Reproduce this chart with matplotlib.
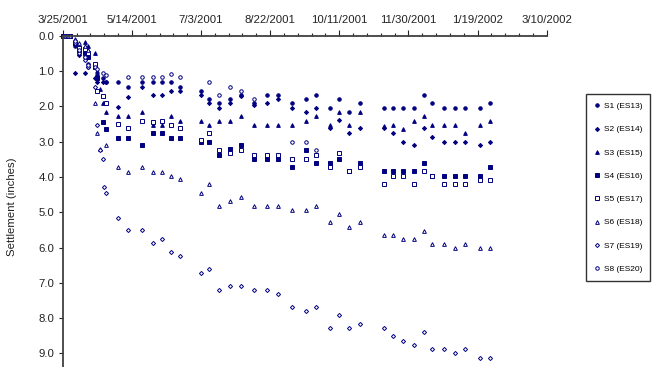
import matplotlib
matplotlib.use("Agg")
import matplotlib.pyplot as plt
import matplotlib.dates as mdates
from matplotlib.ticker import FixedLocator, FuncFormatter
import numpy as np

nan = float("nan")

# survey dates, as day offsets from the first reading
START = "2001-03-25"
days = [0, 1, 2, 3, 4, 5, 9, 12, 16, 18, 23, 25, 27, 29, 30, 31,
        40, 47, 57, 65, 72, 78, 85,
        100, 106, 113, 121, 129, 138, 148, 156, 166, 176, 183,
        193, 200, 207, 215,
        232, 239, 246, 254, 261, 267, 276, 284, 291, 302, 309]

# settlement readings (inches)
s1 = [0, 0, 0, 0, 0, 0, 0.3, 0.5, 0.6, 0.8, 0.9, 1.1, nan, 1.2, nan, 1.3,
      1.32, 1.44, 1.32, 1.32, 1.32, 1.32, 1.44,
      1.57, 1.80, 1.92, 1.80, 1.68, 1.92, 1.68, 1.68, 1.92, 1.80, 1.68,
      2.06, 1.80, 2.15, 1.92,
      2.06, 2.06, 2.06, 2.06, 1.68, 1.92, 2.06, 2.06, 2.06, 2.06, 1.92]
s2 = [0, 0, 0, 0, 0, 0, 1.06, 0.55, 1.06, 0.9, 1.2, 1.3, nan, 1.3, nan, 1.32,
      2.03, 1.75, 1.44, 1.68, 1.68, 1.56, 1.57,
      1.68, 1.92, 2.06, 1.92, 1.72, 1.96, 1.92, 1.80, 2.06, 2.15, 2.06,
      2.62, 2.39, 2.77, 2.62,
      2.62, 2.77, 3.0, 3.11, 2.62, 2.88, 3.0, 3.0, 3.0, 3.11, 3.0]
s3 = [0, 0, 0, 0, 0, 0, 0.2, 0.3, 0.17, 0.3, 0.48, 1.0, 1.5, 1.92, nan, 2.15,
      2.27, 2.27, 2.15, 2.53, 2.53, 2.27, 2.41,
      2.41, 2.53, 2.41, 2.41, 2.27, 2.53, 2.53, 2.53, 2.53, 2.41, 2.27,
      2.53, 2.15, 2.53, 2.15,
      2.56, 2.53, 2.64, 2.41, 2.27, 2.53, 2.53, 2.53, 2.77, 2.53, 2.41]
s4 = [0, 0, 0, 0, 0, 0, 0.2, 0.4, 0.5, 0.6, 0.9, 1.2, nan, 2.44, nan, 2.64,
      2.89, 2.89, 3.11, 2.77, 2.77, 2.89, 2.89,
      3.0, 3.0, 3.37, 3.22, 3.11, 3.49, 3.49, 3.49, 3.72, 3.24, 3.6,
      3.6, 3.49, 3.84, 3.6,
      3.84, 3.84, 3.84, 3.84, 3.6, 3.97, 3.97, 3.97, 3.97, 3.97, 3.72]
s5 = [0, 0, 0, 0, 0, 0, 0.2, 0.35, 0.38, 0.5, 0.8, 1.57, nan, 1.7, nan, 1.9,
      2.5, 2.62, 2.41, 2.45, 2.41, 2.53, 2.62,
      2.95, 2.77, 3.24, 3.33, 3.24, 3.37, 3.37, 3.37, 3.49, 3.49, 3.37,
      3.72, 3.33, 3.84, 3.72,
      4.19, 3.97, 3.97, 4.19, 3.84, 3.97, 4.19, 4.19, 4.19, 4.08, 4.08]
s6 = [0, 0, 0, 0, 0, 0, 0.1, 0.2, 0.3, 0.4, 1.9, 2.75, 3.22, nan, nan, 3.1,
      3.73, 3.85, 3.73, 3.85, 3.85, 3.97, 4.07,
      4.45, 4.2, 4.82, 4.67, 4.56, 4.82, 4.82, 4.82, 4.94, 4.94, 4.82,
      5.29, 5.04, 5.41, 5.29,
      5.65, 5.65, 5.77, 5.77, 5.52, 5.89, 5.89, 6.0, 5.89, 6.0, 6.0]
s7 = [0, 0, 0, 0, 0, 0, 0.2, 0.5, 0.7, 0.9, 1.44, 2.53, 3.24, 3.49, 4.3, 4.45,
      5.16, 5.5, 5.5, 5.88, 5.76, 6.12, 6.24,
      6.73, 6.61, 7.2, 7.08, 7.08, 7.2, 7.2, 7.33, 7.68, 7.81, 7.68,
      8.28, 7.91, 8.28, 8.16,
      8.28, 8.52, 8.65, 8.77, 8.39, 8.88, 8.88, 9.0, 8.88, 9.12, 9.12]
s8 = [0, 0, 0, 0, 0, 0, 0.15, 0.4, 0.6, 0.83, 0.9, 0.95, nan, 1.07, nan, 1.1,
      nan, 1.18, 1.18, 1.18, 1.18, 1.08, 1.18,
      nan, 1.32, 1.68, 1.44, 1.57, 1.79, nan, nan, 3.0, 3.0, 3.24,
      nan, nan, nan, nan,
      nan, nan, nan, nan, nan, nan, nan, nan, nan, nan, nan]

labels = ["S1 (ES13)", "S2 (ES14)", "S3 (ES15)", "S4 (ES16)",
          "S5 (ES17)", "S6 (ES18)", "S7 (ES19)", "S8 (ES20)"]
series = [s1, s2, s3, s4, s5, s6, s7, s8]

NAVY = "#000080"
# (marker, filled, size)
styles = [("o", True, 2.5), ("D", True, 2.1), ("^", True, 2.7), ("s", True, 2.4),
          ("s", False, 2.4), ("^", False, 2.7), ("D", False, 2.1), ("o", False, 2.5)]

plt.rcParams["font.family"] = ["Liberation Sans", "DejaVu Sans"]

W, H = 654, 367
fig = plt.figure(figsize=(W / 100, H / 100), dpi=100)
ax = fig.add_axes([62.7 / W, 0, 484 / W, 1 - 35.7 / H])

dates = np.datetime64(START) + np.array(days).astype("timedelta64[D]")
for vals, label, (mk, filled, ms) in zip(series, labels, styles):
    ax.plot(dates, np.array(vals, dtype=float), linestyle="none", marker=mk, ms=ms,
            mfc=NAVY if filled else "white", mec=NAVY, mew=0.7,
            label=label, clip_on=False)

t0 = mdates.date2num(np.datetime64(START))
ax.set_xlim(t0, t0 + 350)
ax.set_ylim(9.385, 0)

ax.xaxis.tick_top()
ax.xaxis.set_major_locator(FixedLocator(t0 + np.arange(0, 351, 50)))
ax.xaxis.set_minor_locator(FixedLocator(t0 + np.arange(0, 351, 10)))


def fmt_date(v, pos):
    d = mdates.num2date(v)
    return f"{d.month}/{d.day}/{d.year}"


ax.xaxis.set_major_formatter(FuncFormatter(fmt_date))
ax.set_yticks(np.arange(0, 9.5, 1.0))
ax.yaxis.set_major_formatter(FuncFormatter(lambda v, p: f"{v:.1f}"))

ax.tick_params(axis="x", which="major", direction="out", length=4, width=0.8,
               pad=4, labelsize=8.2, colors="#222222")
ax.tick_params(axis="x", which="minor", direction="out", length=2.2, width=0.8,
               colors="#222222")
ax.tick_params(axis="y", direction="out", length=3, width=0.8, pad=3,
               labelsize=8.2, colors="#222222")

for side in ["right", "bottom"]:
    ax.spines[side].set_visible(False)
for side in ["left", "top"]:
    ax.spines[side].set_color("#404040")
    ax.spines[side].set_linewidth(1.3)

fig.text(12 / W, 1 - 207 / H, "Settlement (inches)", rotation=90,
         ha="center", va="center", fontsize=8.2, color="#222222")

leg = fig.legend(loc="upper left", bbox_to_anchor=(586 / W, 1 - 94 / H),
                 fontsize=6, frameon=True, fancybox=False, labelspacing=1.85,
                 handlelength=0.6, handletextpad=0.5, borderpad=1.0,
                 borderaxespad=0)
leg.get_frame().set_edgecolor("black")
leg.get_frame().set_linewidth(1.0)

fig.savefig("out.png", dpi=100)
